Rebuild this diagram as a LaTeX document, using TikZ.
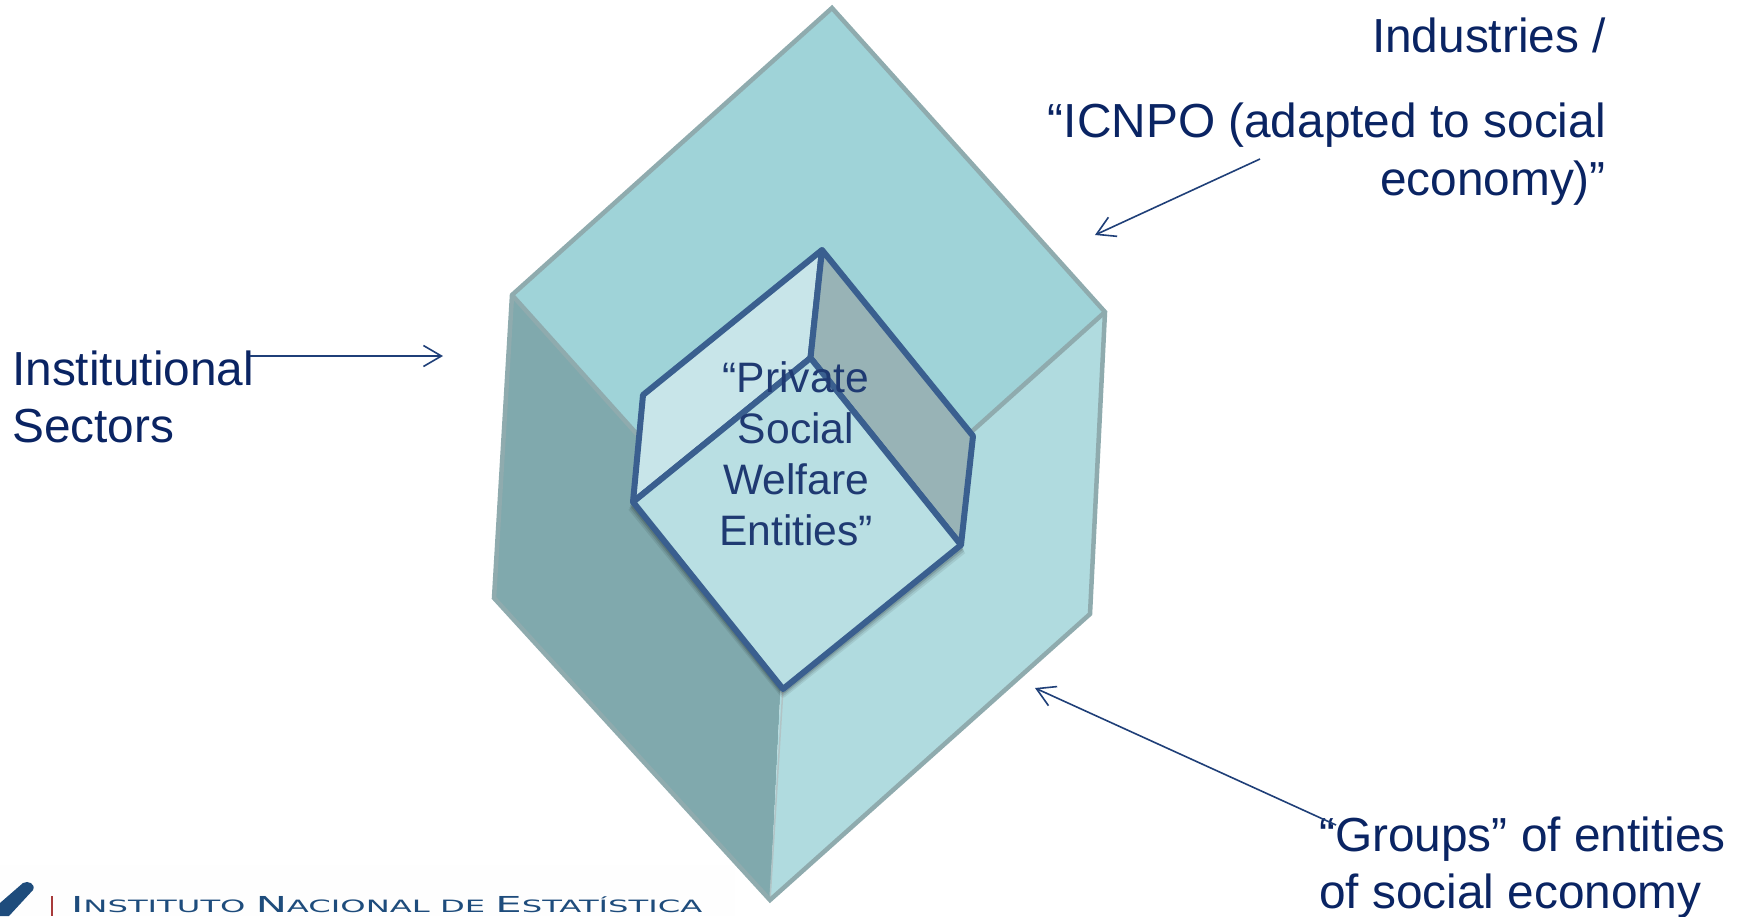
\documentclass[tikz,border=0pt]{standalone}
\usepackage{fontspec}
\setmainfont{Liberation Sans}
\newfontfamily\logofont{DejaVu Sans}
\usetikzlibrary{arrows.meta}
\definecolor{txtblue}{HTML}{0A2463}
\definecolor{innertxt}{HTML}{1F3A72}
\definecolor{topface}{HTML}{9FD3D8}
\definecolor{leftface}{HTML}{80A9AD}
\definecolor{rightface}{HTML}{B0DBDF}
\definecolor{outeredge}{HTML}{8FABAE}
\definecolor{wallL}{HTML}{C8E5E9}
\definecolor{wallR}{HTML}{98B3B6}
\definecolor{floorc}{HTML}{B9DFE3}
\definecolor{inneredge}{HTML}{3A5F8F}
\definecolor{arrowc}{HTML}{1F3F78}
\definecolor{logoblue}{HTML}{1E4C7C}
\definecolor{logored}{HTML}{A83A3A}
\tikzset{
  outerline/.style={draw=outeredge,line width=4.5pt,line join=miter},
  innerface/.style={draw=inneredge,line width=6pt,line join=round},
  label/.style={font=\fontsize{47.8}{56}\selectfont,text=txtblue,inner sep=0pt,anchor=base west},
  labelr/.style={label,anchor=base east},
  innerlabel/.style={font=\fontsize{42.6}{50}\selectfont,text=innertxt,inner sep=0pt,anchor=base},
  pointer/.style={draw=arrowc,line width=1.6pt,-{Straight Barb[length=18pt,width=21pt,line width=1.6pt]}}
}
\begin{document}
\begin{tikzpicture}[x=1pt,y=-1pt]
\useasboundingbox (0,0) rectangle (1737,916);
\fill[white] (0,0) rectangle (1737,916);
\fill[black!0.5] (0,865) rectangle (735,916);
% outer block
\coordinate (T) at (832,8);
\coordinate (L) at (512,295);
\coordinate (R) at (1105,312);
\coordinate (C) at (785,599);
\coordinate (LL) at (494,598);
\coordinate (RL) at (1090,614);
\coordinate (B) at (770,900);
\coordinate (CB) at (783,688);
\fill[leftface] (L) -- (C) -- (B) -- (LL) -- cycle;
\fill[rightface] (R) -- (C) -- (B) -- (RL) -- cycle;
\fill[topface] (T) -- (R) -- (C) -- (L) -- cycle;
\draw[outerline] (L) -- (C) (R) -- (C);
\draw[outeredge!70,line width=1.5pt] (CB) -- (B);
\draw[outerline] (T) -- (R) -- (RL) -- (B) -- (LL) -- (L) -- cycle;
% inner cavity
\coordinate (iT) at (822,250);
\coordinate (iC) at (810.5,358);
\coordinate (iUL) at (643,395);
\coordinate (iLL) at (633,502);
\coordinate (iB) at (783,689);
\coordinate (iRL) at (961,545);
\coordinate (iUR) at (973,436);
\foreach \d/\o in {6/0.08,4/0.10,2/0.14}{
  \draw[black,opacity=\o,line width=5.5pt,line join=round] ([shift={(-\d*0.4,\d)}]iLL) -- ([shift={(0,\d)}]iB) -- ([shift={(\d*0.4,\d)}]iRL);
}
\draw[innerface,fill=wallL] (iT) -- (iC) -- (iLL) -- (iUL) -- cycle;
\draw[innerface,fill=wallR] (iT) -- (iC) -- (iRL) -- (iUR) -- cycle;
\draw[innerface,fill=floorc] (iC) -- (iRL) -- (iB) -- (iLL) -- cycle;
% labels
\node[innerlabel] (p1) at (796,392) {“Private};
\node[innerlabel] (p2) at (796,443) {Social};
\node[innerlabel] (p3) at (796,494) {Welfare};
\node[innerlabel] (p4) at (796,545) {Entities”};
\node[label] (inst) at (12,385) {Institutional};
\node[label] (sect) at (12,442) {Sectors};
\node[labelr] (ind) at (1606,52) {Industries /};
\node[labelr] (icn) at (1606,137) {“ICNPO (adapted to social};
\node[labelr] (eco) at (1606,195) {economy)”};
\node[label] (grp) at (1319,851) {“Groups” of entities};
\node[label] (ofs) at (1319,908) {of social economy};
% pointers
\coordinate (a1s) at (250,356);
\coordinate (a1e) at (443,356);
\coordinate (a2s) at (1260,159);
\coordinate (a2e) at (1095,235);
\coordinate (a3s) at (1336,825);
\coordinate (a3e) at (1035,688);
\draw[pointer] (a1s) -- (a1e);
\draw[pointer] (a2s) -- (a2e);
\draw[pointer] (a3s) -- (a3e);
% logo
\fill[logoblue] (0,903) -- (23,883) .. controls (28,880) and (36,884) .. (33,890) -- (9,916) -- (0,916) -- cycle;
\draw[logored,line width=1.5pt] (52,896) -- (52,916);
\node[inner sep=0pt,anchor=base west,text=logoblue] (logo) at (71,912) {\scalebox{1.895}[1]{\logofont\fontsize{22}{24}\selectfont I\fontsize{17}{20}\selectfont NSTITUTO\ \fontsize{22}{24}\selectfont N\fontsize{17}{20}\selectfont ACIONAL DE\ \fontsize{22}{24}\selectfont E\fontsize{17}{20}\selectfont STATÍSTICA}};
\end{tikzpicture}
\end{document}
